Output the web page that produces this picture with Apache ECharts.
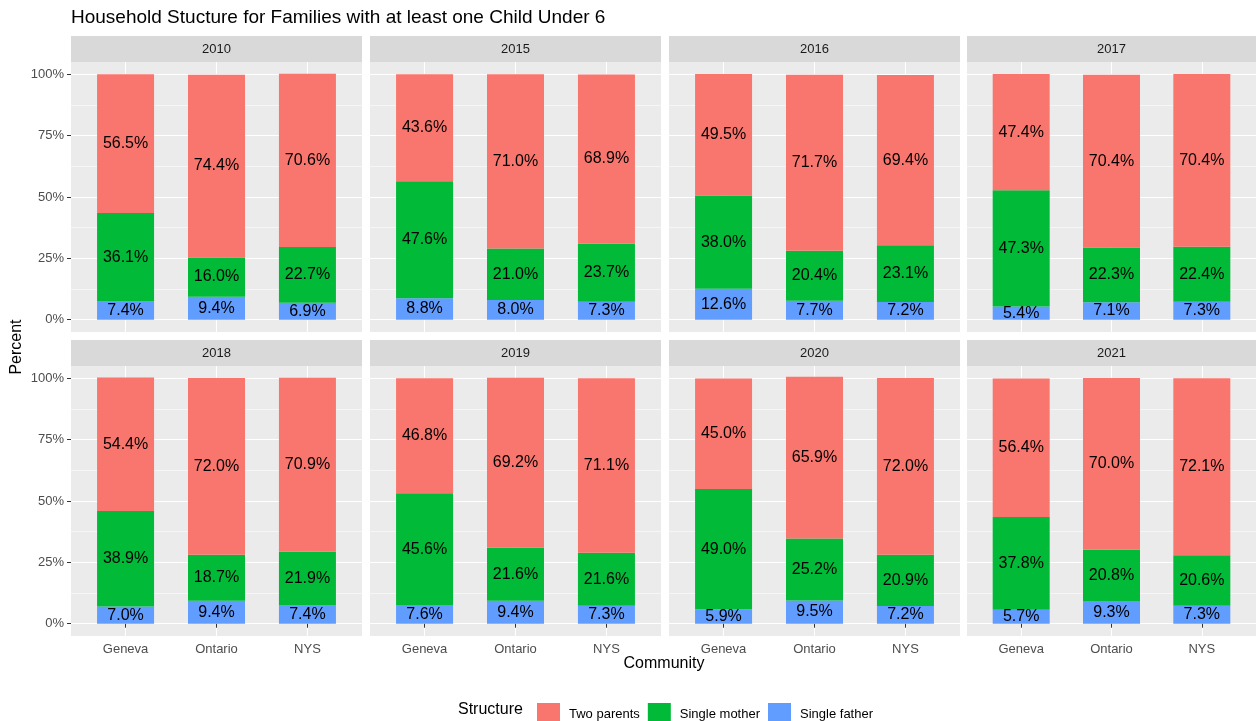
<!DOCTYPE html>
<html>
<head>
<meta charset="utf-8">
<script src="https://cdn.jsdelivr.net/npm/echarts@6/dist/echarts.min.js"></script>
<style>html,body{margin:0;padding:0;background:#fff}#c{width:1256px;height:721px}</style>
</head>
<body>
<div id="c"></div>
<script>
const years = ['2010','2015','2016','2017','2018','2019','2020','2021'];
const communities = ['Geneva','Ontario','NYS'];
const structures = ['Two parents','Single mother','Single father'];
// per year: [Geneva, Ontario, NYS]
const twoParents = [
  [56.5, 74.4, 70.6],
  [43.6, 71.0, 68.9],
  [49.5, 71.7, 69.4],
  [47.4, 70.4, 70.4],
  [54.4, 72.0, 70.9],
  [46.8, 69.2, 71.1],
  [45.0, 65.9, 72.0],
  [56.4, 70.0, 72.1]
];
const singleMother = [
  [36.1, 16.0, 22.7],
  [47.6, 21.0, 23.7],
  [38.0, 20.4, 23.1],
  [47.3, 22.3, 22.4],
  [38.9, 18.7, 21.9],
  [45.6, 21.6, 21.6],
  [49.0, 25.2, 20.9],
  [37.8, 20.8, 20.6]
];
const singleFather = [
  [7.4, 9.4, 6.9],
  [8.8, 8.0, 7.3],
  [12.6, 7.7, 7.2],
  [5.4, 7.1, 7.3],
  [7.0, 9.4, 7.4],
  [7.6, 9.4, 7.3],
  [5.9, 9.5, 7.2],
  [5.7, 9.3, 7.3]
];
const yTicks = [0, 25, 50, 75, 100];
const yMinor = [12.5, 37.5, 62.5, 87.5];
const colors = {'Two parents':'#F8766D','Single mother':'#00BA38','Single father':'#619CFF'};

const FONT = 'Liberation Sans, Arial, sans-serif';
const lefts = [71, 370, 669, 967];
const widths = [291, 291, 291, 289];
const tops = [62, 366];
const H = 270;
const STRIP = 26;

const grids = [], xAxes = [], yAxes = [], series = [], graphics = [];
years.forEach((yr, i) => {
  const col = i % 4, row = Math.floor(i / 4);
  const left = lefts[col], top = tops[row], w = widths[col];
  grids.push({left: left, top: top, width: w, height: H, show: true, backgroundColor: '#EBEBEB', borderWidth: 0});
  const bottomRow = row === 1, firstCol = col === 0;
  xAxes.push({
    type: 'value', gridIndex: i, min: 0.4, max: 3.6, z: 0,
    axisLine: {show: false},
    axisTick: {show: bottomRow, customValues: [1,2,3], length: 4, lineStyle: {color: '#333333', width: 1}},
    axisLabel: {show: bottomRow, customValues: [1,2,3], formatter: v => communities[Math.round(v) - 1] || '', color: '#4D4D4D', fontSize: 13, fontFamily: FONT, margin: 7},
    splitLine: {show: true, lineStyle: {color: '#FFFFFF', width: 1.1}}
  });
  yAxes.push({
    type: 'value', gridIndex: i, min: -5, max: 105, z: 0,
    axisLine: {show: false},
    axisTick: {show: firstCol, customValues: yTicks, length: 4, lineStyle: {color: '#333333', width: 1}},
    axisLabel: {show: firstCol, customValues: yTicks, formatter: v => v + '%', color: '#4D4D4D', fontSize: 13, fontFamily: FONT, margin: 7},
    splitLine: {show: true, lineStyle: {color: '#FFFFFF', width: 1.1}}
  });
  // minor gridlines
  series.push({
    type: 'line', xAxisIndex: i, yAxisIndex: i, data: [], silent: true, z: 0,
    markLine: {silent: true, z: 0, symbol: 'none', label: {show: false}, animation: false,
      lineStyle: {color: '#FFFFFF', width: 0.55, type: 'solid'},
      data: yMinor.map(v => ({yAxis: v}))}
  });
  const sets = [['Single father', singleFather], ['Single mother', singleMother], ['Two parents', twoParents]];
  sets.forEach(([name, arr]) => {
    series.push({
      name: name, type: 'bar', xAxisIndex: i, yAxisIndex: i, stack: 's' + i,
      barWidth: 57, z: 3,
      encode: {x: 1, y: 0},
      itemStyle: {color: colors[name]},
      label: {show: true, position: 'inside', color: '#000000', fontSize: 16, fontFamily: FONT,
        formatter: p => p.value[0].toFixed(1) + '%'},
      data: arr[i].map((v, k) => [v, k + 1])
    });
  });
  // strip
  const sTop = top - STRIP;
  graphics.push({type: 'rect', shape: {x: left, y: sTop, width: w, height: STRIP}, style: {fill: '#D9D9D9'}, silent: true});
  graphics.push({type: 'text', x: left + w / 2, y: sTop + STRIP / 2, style: {text: yr, fill: '#1A1A1A', font: '13px ' + FONT, textAlign: 'center', textVerticalAlign: 'middle'}, silent: true});
});

graphics.push({type: 'text', x: 71, y: 18, style: {text: 'Household Stucture for Families with at least one Child Under 6', fill: '#000000', font: '19px ' + FONT, textAlign: 'left', textVerticalAlign: 'middle'}});
graphics.push({type: 'text', x: 17, y: 347, rotation: Math.PI / 2, style: {text: 'Percent', fill: '#000000', font: '16px ' + FONT, textAlign: 'center', textVerticalAlign: 'middle'}});
graphics.push({type: 'text', x: 664, y: 664, style: {text: 'Community', fill: '#000000', font: '16px ' + FONT, textAlign: 'center', textVerticalAlign: 'middle'}});
graphics.push({type: 'text', x: 458, y: 710, style: {text: 'Structure', fill: '#000000', font: '16px ' + FONT, textAlign: 'left', textVerticalAlign: 'middle'}});

const chart = echarts.init(document.getElementById('c'), null, {renderer: 'canvas'});
chart.setOption({
  animation: false,
  backgroundColor: '#FFFFFF',
  textStyle: {fontFamily: FONT},
  grid: grids, xAxis: xAxes, yAxis: yAxes, series: series,
  legend: {
    data: structures, left: 532, top: 698, orient: 'horizontal',
    icon: 'rect', itemWidth: 23, itemHeight: 23, itemGap: 8,
    textStyle: {fontSize: 13, color: '#000000', fontFamily: FONT, padding: [0, 0, 4, 4]},
    selectedMode: false
  },
  graphic: graphics
});
</script>
</body>
</html>
